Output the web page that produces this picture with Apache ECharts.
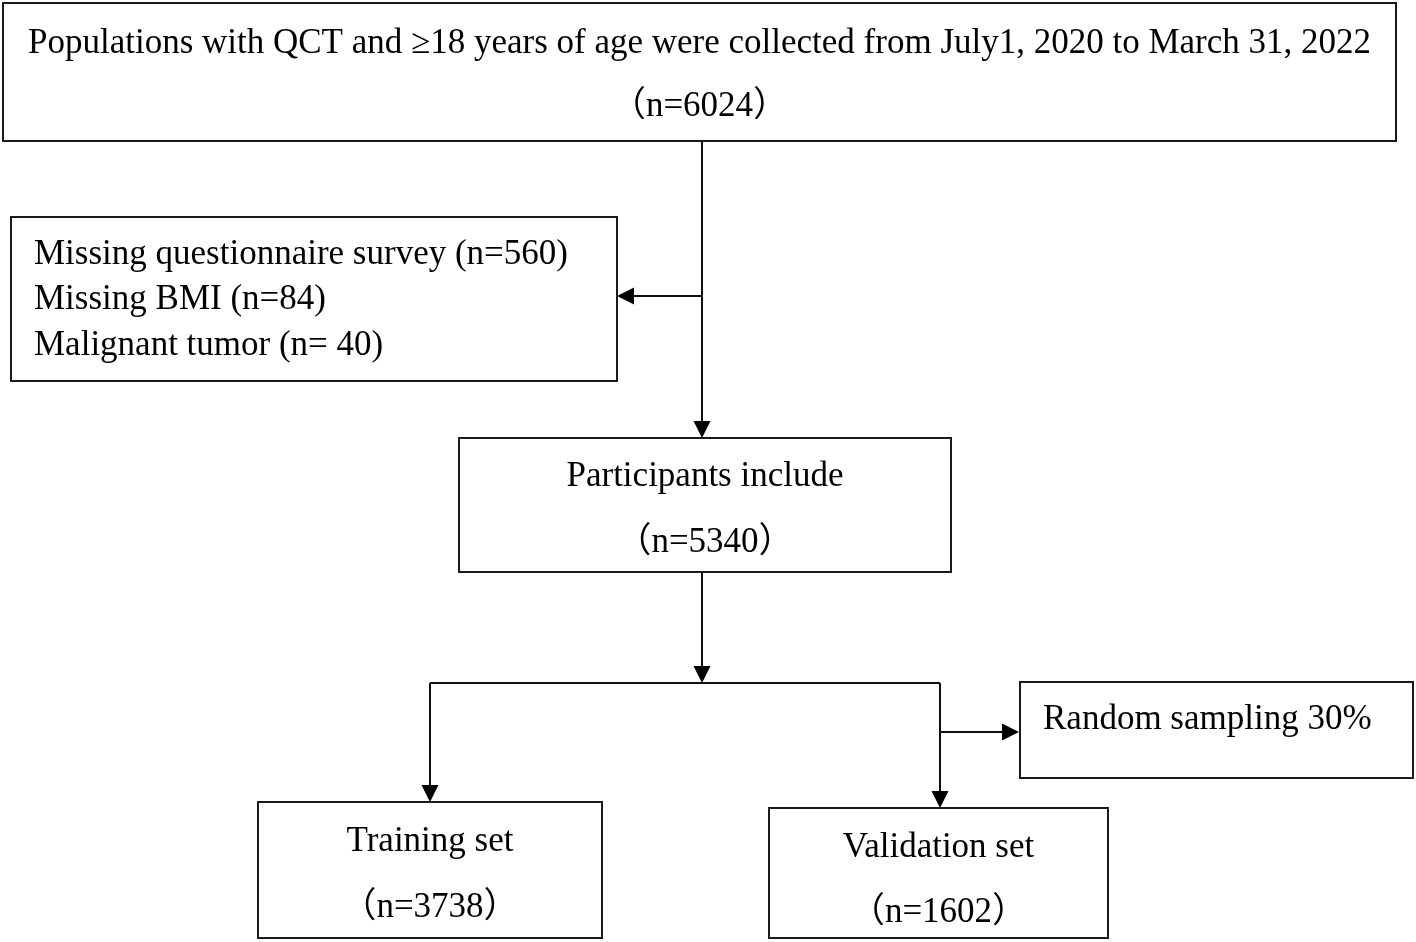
<!DOCTYPE html>
<html>
<head>
<meta charset="utf-8">
<script src="https://cdn.jsdelivr.net/npm/echarts@6/dist/echarts.min.js"></script>
<style>html,body{margin:0;padding:0;background:#fff}#c{width:1416px;height:942px}</style>
</head>
<body>
<div id="c"></div>
<script>
// Box texts (each entry = lines of one box)
const boxTexts = [
  ["Populations with QCT and \u226518 years of age were collected from July1, 2020 to March 31, 2022", "\uff08n=6024\uff09"],
  ["Missing questionnaire survey (n=560)", "Missing BMI (n=84)", "Malignant tumor (n= 40)"],
  ["Participants include", "\uff08n=5340\uff09"],
  ["Training set", "\uff08n=3738\uff09"],
  ["Validation set", "\uff08n=1602\uff09"],
  ["Random sampling 30%"]
];
// Box layout in the diagram's coordinate space [x1, y1, x2, y2]
const boxRects = [
  [3, 3, 1396, 141],
  [11, 217, 617, 381],
  [459, 438, 951, 572],
  [258, 802, 602, 938],
  [769, 808, 1108, 938],
  [1020, 682, 1413, 778]
];
// Text line centre (y) per box, alignment and left x
const boxTextY = [
  [44, 107],
  [255, 300, 346],
  [477, 543],
  [842, 908],
  [848, 913],
  [720]
];
const boxAlign = ["center", "left", "center", "center", "center", "left"];
const boxTextX = [null, 34, null, null, null, 1043];

// Connectors: polyline points, last point carries arrow (if arrow true)
const connectors = [
  {pts: [[702, 141], [702, 438]], arrow: true},
  {pts: [[702, 296], [617, 296]], arrow: true},
  {pts: [[702, 572], [702, 683]], arrow: true},
  {pts: [[430, 683], [940, 683]], arrow: false},
  {pts: [[430, 683], [430, 802]], arrow: true},
  {pts: [[940, 683], [940, 808]], arrow: true},
  {pts: [[940, 732], [1019, 732]], arrow: true}
];

const FONT = '35px "Liberation Serif", "Times New Roman", "Noto Sans CJK SC", serif';

const chart = echarts.init(document.getElementById('c'), null, {renderer: 'canvas'});

function boxRender(params, api) {
  const i = api.value(0);
  const r = boxRects[i];
  const p1 = api.coord([r[0], r[1]]);
  const p2 = api.coord([r[2], r[3]]);
  const children = [{
    type: 'rect',
    shape: {x: p1[0], y: p1[1], width: p2[0] - p1[0], height: p2[1] - p1[1]},
    style: {fill: '#fff', stroke: '#1a1a1a', lineWidth: 2}
  }];
  boxTexts[i].forEach(function (t, k) {
    const yy = api.coord([0, boxTextY[i][k]])[1];
    let xx, align = boxAlign[i];
    if (align === 'center') xx = (p1[0] + p2[0]) / 2;
    else xx = api.coord([boxTextX[i], 0])[0];
    children.push({
      type: 'text',
      style: {text: t, x: xx, y: yy, align: align, verticalAlign: 'middle', font: FONT, fill: '#000'}
    });
  });
  return {type: 'group', children: children};
}

function connRender(params, api) {
  const c = connectors[api.value(0)];
  const pts = c.pts.map(function (p) { return api.coord(p); });
  const children = [];
  const n = pts.length;
  let linePts = pts.slice();
  if (c.arrow) {
    const a = pts[n - 2], b = pts[n - 1];
    const dx = b[0] - a[0], dy = b[1] - a[1];
    const len = Math.sqrt(dx * dx + dy * dy);
    const ux = dx / len, uy = dy / len;
    const L = 17, W = 8.5;
    const base = [b[0] - ux * L, b[1] - uy * L];
    linePts[n - 1] = [b[0] - ux * (L - 2), b[1] - uy * (L - 2)];
    children.push({
      type: 'polygon',
      shape: {points: [b, [base[0] - uy * W, base[1] + ux * W], [base[0] + uy * W, base[1] - ux * W]]},
      style: {fill: '#000'}
    });
  }
  children.unshift({
    type: 'polyline',
    shape: {points: linePts},
    style: {stroke: '#111', lineWidth: 2, fill: null}
  });
  return {type: 'group', children: children};
}

chart.setOption({
  animation: false,
  backgroundColor: '#fff',
  grid: {left: 0, right: 0, top: 0, bottom: 0},
  xAxis: {type: 'value', min: 0, max: 1416, show: false},
  yAxis: {type: 'value', min: 0, max: 942, inverse: true, show: false},
  series: [
    {
      type: 'custom',
      renderItem: connRender,
      data: connectors.map(function (c, i) { return [i]; }),
      encode: {x: -1, y: -1},
      silent: true,
      clip: false
    },
    {
      type: 'custom',
      renderItem: boxRender,
      data: boxTexts.map(function (b, i) { return [i]; }),
      encode: {x: -1, y: -1},
      silent: true,
      clip: false,
      z: 3
    }
  ]
});
</script>
</body>
</html>
